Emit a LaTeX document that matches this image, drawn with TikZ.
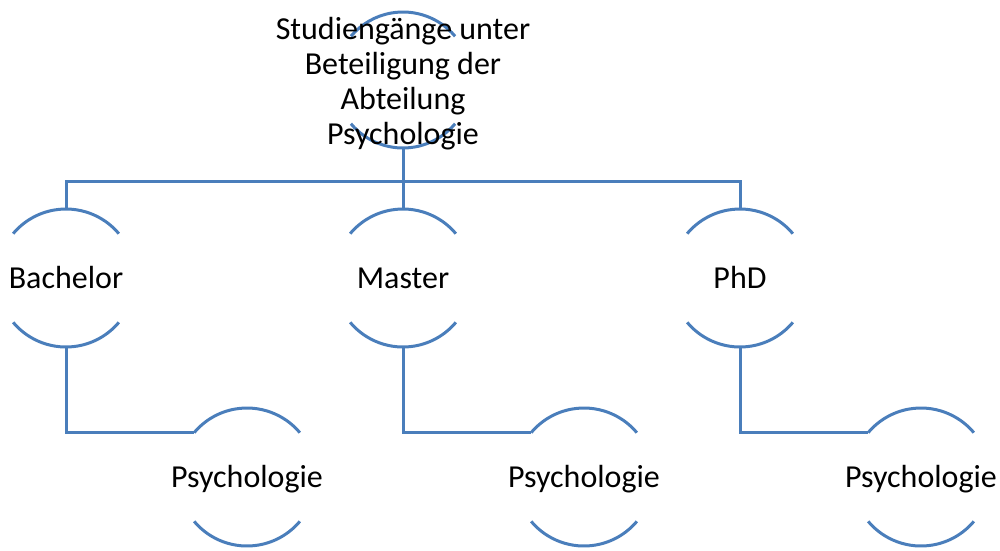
\documentclass[tikz,border=0pt]{standalone}
\usepackage{fontspec}
\setmainfont{Carlito}
\usetikzlibrary{calc}
\definecolor{arcblue}{HTML}{4A7EBB}
\tikzset{
  lbl/.style={align=center, font=\fontsize{32}{35}\selectfont, inner sep=0pt},
  arcline/.style={draw=arcblue, line width=3pt},
  conn/.style={draw=arcblue, line width=3pt}
}
\newcommand{\arcshape}[4]{% name, x, y, radius
  \draw[arcline] ($(#2,#3)+(40:#4pt)$) arc (40:140:#4pt);
  \draw[arcline] ($(#2,#3)+(220:#4pt)$) arc (220:320:#4pt);
  \coordinate (#1-n) at ($(#2,#3)+(0,#4)$);
  \coordinate (#1-s) at ($(#2,#3)+(0,-#4)$);
  \coordinate (#1-w) at ($(#2,#3)+(140:#4pt)$);
}
\begin{document}
\begin{tikzpicture}[x=1pt,y=1pt]
\useasboundingbox (0,0) rectangle (1000,-550);
\arcshape{top}{403}{-80}{68}
\node[lbl] (toplbl) at (403,-84) {Studiengänge unter\\Beteiligung der\\Abteilung\\Psychologie};
\arcshape{bach}{66}{-278}{69}
\node[lbl, anchor=base] (bachlbl) at (66,-288) {Bachelor};
\arcshape{mast}{403}{-278}{69}
\node[lbl, anchor=base] (mastlbl) at (403,-288) {Master};
\arcshape{phd}{740}{-278}{69}
\node[lbl, anchor=base] (phdlbl) at (740,-288) {PhD};
\arcshape{psya}{247}{-477}{69}
\node[lbl, anchor=base] (psyalbl) at (247,-487) {Psychologie};
\arcshape{psyb}{584}{-477}{69}
\node[lbl, anchor=base] (psyblbl) at (584,-487) {Psychologie};
\arcshape{psyc}{921}{-477}{69}
\node[lbl, anchor=base] (psyclbl) at (921,-487) {Psychologie};
\coordinate (bus) at (403,-181);
\draw[conn] (top-s) -- (bus);
\draw[conn] (bach-n) -- (bach-n |- bus) -- (phd-n |- bus) -- (phd-n);
\draw[conn] (mast-n) -- (bus);
\draw[conn] (bach-s) |- (psya-w);
\draw[conn] (mast-s) |- (psyb-w);
\draw[conn] (phd-s) |- (psyc-w);
\end{tikzpicture}
\end{document}
